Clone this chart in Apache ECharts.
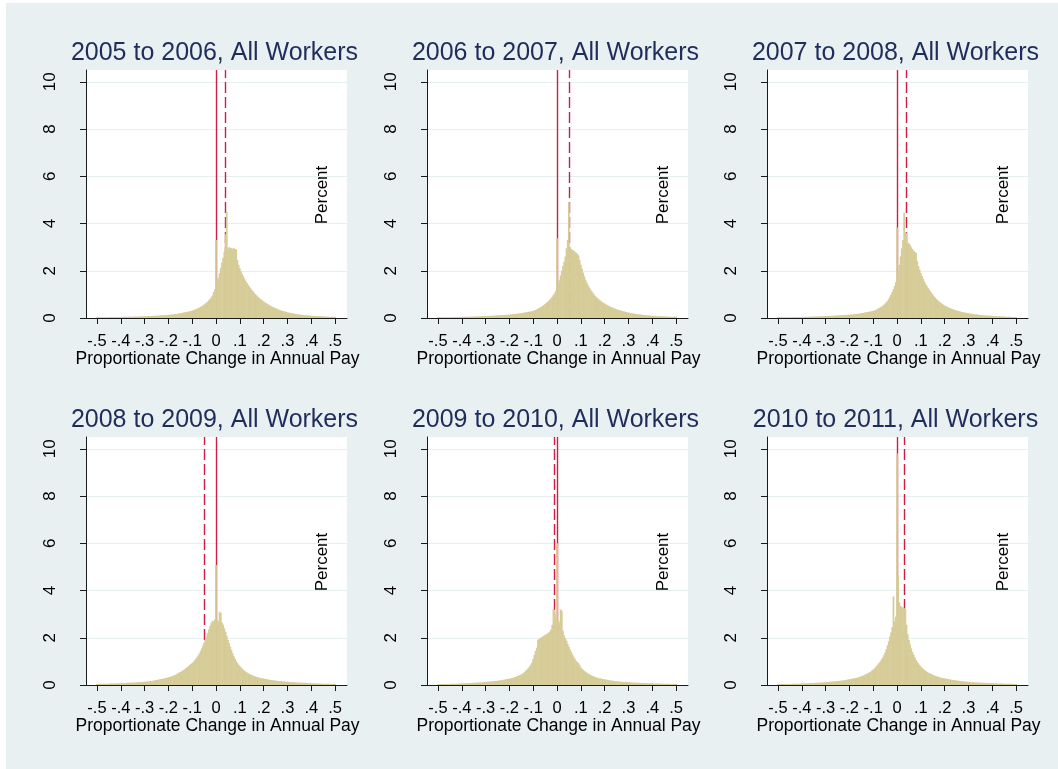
<!DOCTYPE html>
<html>
<head>
<meta charset="utf-8">
<script src="https://cdn.jsdelivr.net/npm/echarts@6/dist/echarts.min.js"></script>
<style>
html, body { margin: 0; padding: 0; background: #ffffff; }
#chart { width: 1058px; height: 769px; }
</style>
</head>
<body>
<div id="chart"></div>
<script>
// Histograms of proportionate change in annual pay, percent of workers per 0.005-wide bin.
// Bin centres run from -0.5 to 0.5 in steps of 0.005 (201 bins).
const BIN_START = -0.5;
const BIN_WIDTH = 0.005;

const panelTitles = [
  '2005 to 2006, All Workers', '2006 to 2007, All Workers', '2007 to 2008, All Workers',
  '2008 to 2009, All Workers', '2009 to 2010, All Workers', '2010 to 2011, All Workers'
];

const pct2005to2006 = [
  0.03,0.03,0.03,0.03,0.03,0.03,0.03,0.03,0.03,0.03,
  0.03,0.04,0.04,0.04,0.04,0.04,0.04,0.04,0.04,0.04,
  0.04,0.04,0.05,0.05,0.05,0.05,0.05,0.05,0.05,0.05,
  0.05,0.05,0.06,0.06,0.06,0.06,0.06,0.06,0.07,0.07,
  0.07,0.07,0.07,0.08,0.08,0.08,0.08,0.09,0.09,0.09,
  0.10,0.10,0.10,0.11,0.11,0.11,0.12,0.12,0.12,0.13,
  0.13,0.14,0.14,0.15,0.15,0.16,0.17,0.17,0.18,0.19,
  0.20,0.21,0.22,0.23,0.24,0.25,0.26,0.27,0.28,0.30,
  0.31,0.33,0.35,0.37,0.39,0.41,0.44,0.47,0.50,0.53,
  0.57,0.61,0.65,0.70,0.75,0.80,0.87,0.95,1.10,1.22,
  3.30,
  1.55,1.70,1.90,2.12,2.35,2.55,2.80,3.55,4.50,
  2.95,3.00,2.95,2.97,2.93,2.95,2.92,2.90,2.45,2.25,
  2.10,1.98,1.86,1.76,1.66,1.57,1.48,1.40,1.33,1.26,
  1.19,1.13,1.07,1.01,0.96,0.91,0.86,0.82,0.78,0.74,
  0.70,0.66,0.63,0.60,0.57,0.54,0.51,0.48,0.46,0.44,
  0.41,0.39,0.37,0.35,0.33,0.31,0.30,0.28,0.27,0.25,
  0.24,0.23,0.22,0.21,0.20,0.19,0.18,0.17,0.16,0.15,
  0.15,0.14,0.13,0.13,0.12,0.12,0.11,0.11,0.10,0.10,
  0.09,0.09,0.09,0.08,0.08,0.08,0.07,0.07,0.07,0.07,
  0.06,0.06,0.06,0.06,0.05,0.05,0.05,0.05,0.05,0.05,0.05
];

const pct2006to2007 = [
  0.03,0.03,0.03,0.03,0.03,0.03,0.03,0.03,0.03,0.03,
  0.03,0.03,0.04,0.04,0.04,0.04,0.04,0.04,0.04,0.04,
  0.04,0.05,0.05,0.05,0.05,0.05,0.05,0.05,0.06,0.06,
  0.06,0.06,0.06,0.06,0.07,0.07,0.07,0.07,0.07,0.08,
  0.08,0.08,0.08,0.09,0.09,0.09,0.10,0.10,0.10,0.11,
  0.11,0.11,0.12,0.12,0.12,0.13,0.13,0.13,0.14,0.14,
  0.14,0.15,0.15,0.16,0.16,0.17,0.18,0.18,0.19,0.20,
  0.20,0.21,0.22,0.23,0.24,0.25,0.26,0.27,0.28,0.29,
  0.30,0.32,0.34,0.36,0.39,0.42,0.45,0.48,0.51,0.55,
  0.59,0.63,0.68,0.73,0.78,0.84,0.90,0.97,1.05,1.15,
  3.38,
  1.45,1.60,1.80,2.00,2.20,2.38,2.60,2.95,3.30,
  4.90,3.00,2.92,2.88,2.85,2.80,2.76,2.72,2.65,2.45,
  2.25,2.08,1.92,1.76,1.62,1.50,1.40,1.30,1.22,1.14,
  1.07,1.00,0.94,0.89,0.84,0.79,0.75,0.71,0.67,0.64,
  0.61,0.58,0.55,0.52,0.50,0.47,0.45,0.43,0.41,0.39,
  0.37,0.35,0.34,0.32,0.31,0.29,0.28,0.27,0.25,0.24,
  0.23,0.22,0.21,0.20,0.19,0.18,0.17,0.17,0.16,0.15,
  0.15,0.14,0.13,0.13,0.12,0.12,0.11,0.11,0.10,0.10,
  0.09,0.09,0.09,0.08,0.08,0.08,0.07,0.07,0.07,0.07,
  0.06,0.06,0.06,0.06,0.05,0.05,0.05,0.05,0.05,0.05,0.05
];

const pct2007to2008 = [
  0.03,0.03,0.03,0.03,0.03,0.03,0.03,0.03,0.03,0.03,
  0.03,0.03,0.03,0.04,0.04,0.04,0.04,0.04,0.04,0.04,
  0.04,0.04,0.05,0.05,0.05,0.05,0.05,0.05,0.05,0.06,
  0.06,0.06,0.06,0.06,0.06,0.07,0.07,0.07,0.07,0.08,
  0.08,0.08,0.08,0.09,0.09,0.09,0.09,0.10,0.10,0.10,
  0.11,0.11,0.11,0.12,0.12,0.12,0.13,0.13,0.13,0.14,
  0.14,0.14,0.15,0.15,0.16,0.16,0.17,0.18,0.18,0.19,
  0.20,0.21,0.22,0.23,0.24,0.25,0.26,0.27,0.28,0.29,
  0.30,0.32,0.34,0.36,0.39,0.42,0.45,0.48,0.52,0.56,
  0.61,0.66,0.72,0.80,0.90,1.00,1.10,1.22,1.36,1.52,
  3.83,
  1.90,2.25,2.60,2.95,3.30,4.45,3.65,3.60,3.20,
  3.15,3.10,3.00,2.92,2.85,2.80,2.75,2.40,2.20,2.05,
  1.90,1.78,1.66,1.55,1.45,1.36,1.28,1.20,1.13,1.06,
  0.99,0.92,0.86,0.81,0.76,0.71,0.67,0.63,0.59,0.56,
  0.53,0.50,0.48,0.45,0.43,0.41,0.39,0.37,0.35,0.33,
  0.32,0.30,0.29,0.28,0.26,0.25,0.24,0.23,0.22,0.21,
  0.20,0.19,0.18,0.18,0.17,0.16,0.15,0.15,0.14,0.13,
  0.13,0.12,0.12,0.11,0.11,0.10,0.10,0.10,0.09,0.09,
  0.08,0.08,0.08,0.07,0.07,0.07,0.07,0.06,0.06,0.06,
  0.06,0.05,0.05,0.05,0.05,0.05,0.04,0.04,0.04,0.04,0.04
];

const pct2008to2009 = [
  0.04,0.04,0.05,0.05,0.05,0.05,0.05,0.05,0.05,0.05,
  0.05,0.06,0.06,0.06,0.06,0.06,0.06,0.07,0.07,0.07,
  0.07,0.08,0.08,0.08,0.08,0.09,0.09,0.09,0.10,0.10,
  0.10,0.10,0.11,0.11,0.11,0.12,0.12,0.12,0.13,0.13,
  0.14,0.14,0.15,0.15,0.16,0.17,0.17,0.18,0.19,0.20,
  0.21,0.22,0.23,0.24,0.25,0.26,0.27,0.28,0.29,0.31,
  0.32,0.34,0.35,0.37,0.39,0.41,0.43,0.46,0.49,0.52,
  0.55,0.58,0.61,0.64,0.68,0.72,0.76,0.80,0.85,0.89,
  0.93,0.98,1.04,1.10,1.17,1.25,1.33,1.43,1.55,1.66,
  1.78,1.92,2.05,2.20,2.35,2.50,2.62,2.72,2.68,2.78,
  5.08,
  2.75,2.70,3.10,3.05,2.65,2.55,2.40,2.25,2.08,
  1.92,1.77,1.62,1.48,1.34,1.22,1.11,1.01,0.93,0.86,
  0.80,0.74,0.69,0.64,0.60,0.56,0.53,0.50,0.47,0.44,
  0.42,0.40,0.38,0.36,0.34,0.33,0.32,0.30,0.29,0.28,
  0.27,0.26,0.25,0.24,0.23,0.22,0.21,0.20,0.20,0.19,
  0.18,0.18,0.17,0.17,0.16,0.16,0.15,0.15,0.14,0.14,
  0.14,0.13,0.13,0.12,0.12,0.12,0.11,0.11,0.11,0.10,
  0.10,0.10,0.09,0.09,0.09,0.09,0.08,0.08,0.08,0.08,
  0.07,0.07,0.07,0.07,0.06,0.06,0.06,0.06,0.06,0.05,
  0.05,0.05,0.05,0.05,0.05,0.05,0.04,0.04,0.04,0.04,0.04
];

const pct2009to2010 = [
  0.03,0.04,0.04,0.04,0.04,0.04,0.04,0.04,0.04,0.04,
  0.04,0.05,0.05,0.05,0.05,0.05,0.05,0.05,0.06,0.06,
  0.06,0.06,0.07,0.07,0.07,0.07,0.08,0.08,0.08,0.09,
  0.09,0.09,0.10,0.10,0.10,0.11,0.11,0.11,0.12,0.12,
  0.13,0.13,0.14,0.14,0.15,0.15,0.16,0.16,0.17,0.17,
  0.18,0.19,0.19,0.20,0.21,0.22,0.23,0.24,0.25,0.26,
  0.27,0.28,0.29,0.31,0.32,0.34,0.36,0.38,0.40,0.42,
  0.45,0.48,0.52,0.56,0.61,0.66,0.72,0.79,0.86,0.95,
  1.10,1.28,1.45,1.58,1.92,1.95,1.98,2.02,2.05,2.08,
  2.12,2.15,2.18,2.22,2.26,2.35,2.55,3.20,3.15,2.80,
  6.00,
  2.75,2.65,3.20,3.15,2.30,2.10,1.98,1.88,1.75,
  1.62,1.50,1.40,1.29,1.20,1.11,1.03,0.97,0.92,0.85,
  0.74,0.69,0.64,0.60,0.56,0.52,0.49,0.46,0.43,0.40,
  0.38,0.36,0.34,0.32,0.31,0.29,0.28,0.27,0.26,0.25,
  0.24,0.23,0.22,0.21,0.20,0.19,0.18,0.18,0.17,0.16,
  0.16,0.15,0.15,0.14,0.14,0.13,0.13,0.13,0.12,0.12,
  0.12,0.11,0.11,0.11,0.10,0.10,0.10,0.09,0.09,0.09,
  0.09,0.08,0.08,0.08,0.08,0.08,0.07,0.07,0.07,0.07,
  0.07,0.06,0.06,0.06,0.06,0.06,0.06,0.05,0.05,0.05,
  0.05,0.05,0.05,0.05,0.05,0.04,0.04,0.04,0.04,0.04,0.04
];

const pct2010to2011 = [
  0.03,0.03,0.04,0.04,0.04,0.04,0.04,0.04,0.04,0.04,
  0.04,0.04,0.05,0.05,0.05,0.05,0.05,0.05,0.05,0.06,
  0.06,0.06,0.06,0.07,0.07,0.07,0.07,0.08,0.08,0.08,
  0.08,0.09,0.09,0.09,0.10,0.10,0.10,0.11,0.11,0.12,
  0.12,0.12,0.13,0.13,0.14,0.14,0.15,0.15,0.16,0.16,
  0.17,0.17,0.18,0.18,0.19,0.20,0.20,0.21,0.22,0.23,
  0.24,0.25,0.26,0.27,0.28,0.29,0.30,0.32,0.33,0.35,
  0.37,0.39,0.41,0.43,0.45,0.48,0.51,0.54,0.57,0.61,
  0.65,0.70,0.75,0.81,0.87,0.93,1.00,1.08,1.16,1.26,
  1.38,1.52,1.68,1.85,2.05,2.22,2.45,3.75,2.70,2.90,
  9.80,
  4.65,3.50,3.35,3.30,3.28,3.25,3.20,2.55,2.15,
  1.90,1.72,1.55,1.40,1.28,1.17,1.06,0.98,0.91,0.84,
  0.78,0.73,0.68,0.64,0.60,0.56,0.53,0.51,0.48,0.46,
  0.43,0.41,0.39,0.37,0.36,0.34,0.33,0.31,0.30,0.29,
  0.28,0.27,0.26,0.25,0.24,0.23,0.22,0.21,0.20,0.20,
  0.19,0.18,0.18,0.17,0.16,0.16,0.15,0.15,0.14,0.14,
  0.13,0.13,0.12,0.12,0.12,0.11,0.11,0.11,0.10,0.10,
  0.10,0.09,0.09,0.09,0.09,0.08,0.08,0.08,0.08,0.07,
  0.07,0.07,0.07,0.07,0.06,0.06,0.06,0.06,0.06,0.06,
  0.05,0.05,0.05,0.05,0.05,0.05,0.05,0.04,0.04,0.04,0.04
];

// Median change for each period (dashed reference line)
const medianChange = [0.042, 0.049, 0.040, -0.047, -0.005, 0.026];

const xTickValues = [-0.5, -0.4, -0.3, -0.2, -0.1, 0, 0.1, 0.2, 0.3, 0.4, 0.5];
const yTickValues = [0, 2, 4, 6, 8, 10];

const panelData = [pct2005to2006, pct2006to2007, pct2007to2008, pct2008to2009, pct2009to2010, pct2010to2011];

// ---- layout and style ----
const FONT = '"Liberation Sans", Arial, Helvetica, sans-serif';
const BAR_COLOR = '#d6cc98';
const REF_COLOR = '#cc1f48';
const AXIS_COLOR = '#1a1a1a';
const TITLE_COLOR = '#1f2d5a';
const GRID_LINE = '#e7eff1';
const colLeft = [86, 427, 767];
const rowTop = [70, 437];
const PLOT_W = 261, PLOT_H = 248;

function fmtTick(v) {
  if (Math.abs(v) < 1e-9) return '0';
  const s = Math.abs(v).toFixed(1).replace(/^0/, '');
  return (v < 0 ? '-' : '') + s;
}

const grids = [], xAxes = [], yAxes = [], series = [], graphics = [];

graphics.push({
  type: 'rect', z: -10, silent: true,
  shape: { x: 6, y: 3, width: 1058, height: 769 },
  style: { fill: '#e8f0f2' }
});

panelData.forEach((vals, k) => {
  const r = Math.floor(k / 3), c = k % 3;
  const left = colLeft[c], top = rowTop[r];
  grids.push({
    left: left, top: top, width: PLOT_W, height: PLOT_H,
    show: true, backgroundColor: '#ffffff', borderWidth: 0, containLabel: false
  });
  xAxes.push({
    type: 'value', gridIndex: k, min: -0.546, max: 0.55,
    axisLine: { show: true, onZero: false, lineStyle: { color: AXIS_COLOR, width: 1 } },
    axisTick: { show: true, inside: false, length: 6, customValues: xTickValues,
      lineStyle: { color: AXIS_COLOR, width: 1 } },
    axisLabel: { show: true, customValues: xTickValues, formatter: fmtTick, margin: 15,
      fontSize: 16.5, fontFamily: FONT, color: '#000' },
    splitLine: { show: false }
  });
  yAxes.push({
    type: 'value', gridIndex: k, min: 0, max: 10.5, interval: 2,
    axisLine: { show: true, onZero: false, lineStyle: { color: AXIS_COLOR, width: 1 } },
    axisTick: { show: true, inside: false, length: 6, customValues: yTickValues,
      lineStyle: { color: AXIS_COLOR, width: 1 } },
    axisLabel: { show: true, customValues: yTickValues, rotate: 90, margin: 27,
      fontSize: 17, fontFamily: FONT, color: '#000',
      formatter: v => String(v) },
    splitLine: { show: true, lineStyle: { color: GRID_LINE, width: 1 } }
  });

  // reference lines at zero change (solid) and the median (dashed), drawn under the bars
  series.push({
    type: 'line', xAxisIndex: k, yAxisIndex: k, data: [], z: 1, silent: true,
    markLine: {
      z: 1, silent: true, symbol: ['none', 'none'], label: { show: false }, animation: false,
      data: [
        { xAxis: 0, lineStyle: { color: REF_COLOR, width: 1.4, type: 'solid' } },
        { xAxis: medianChange[k], lineStyle: { color: REF_COLOR, width: 1.4, type: [11, 4] } }
      ]
    }
  });

  const binData = vals.map((v, i) => [BIN_START + i * BIN_WIDTH, v]);
  series.push({
    type: 'custom', xAxisIndex: k, yAxisIndex: k, z: 10, silent: true,
    data: binData,
    encode: { x: 0, y: 1 },
    renderItem: function (params, api) {
      const xv = api.value(0), yv = api.value(1);
      const p0 = api.coord([xv - BIN_WIDTH / 2, yv]);
      const p1 = api.coord([xv + BIN_WIDTH / 2, 0]);
      // slight overlap so neighbouring bins join without seams
      return {
        type: 'rect',
        shape: { x: p0[0] - 0.3, y: p0[1], width: p1[0] - p0[0] + 0.6, height: p1[1] - p0[1] },
        style: { fill: BAR_COLOR }
      };
    }
  });

  // panel title, x-axis title and the y-axis title
  graphics.push({
    type: 'text', silent: true, x: left + PLOT_W / 2 - 2, y: top - 17,
    style: { text: panelTitles[k], fontSize: 25, fontFamily: FONT, fill: TITLE_COLOR,
      align: 'center', verticalAlign: 'middle' }
  });
  graphics.push({
    type: 'text', silent: true, x: left + PLOT_W / 2 + 1, y: top + PLOT_H + 41,
    style: { text: 'Proportionate Change in Annual Pay', fontSize: 17.5, fontFamily: FONT,
      fill: '#000', align: 'center', verticalAlign: 'middle' }
  });
  graphics.push({
    type: 'text', silent: true, x: left + 236, y: top + 125, rotation: Math.PI / 2,
    style: { text: 'Percent', fontSize: 17, fontFamily: FONT, fill: '#000',
      align: 'center', verticalAlign: 'middle' }
  });
});

const chart = echarts.init(document.getElementById('chart'), null, { renderer: 'canvas' });
chart.setOption({
  animation: false,
  backgroundColor: '#ffffff',
  grid: grids,
  xAxis: xAxes,
  yAxis: yAxes,
  series: series,
  graphic: graphics
});
</script>
</body>
</html>
